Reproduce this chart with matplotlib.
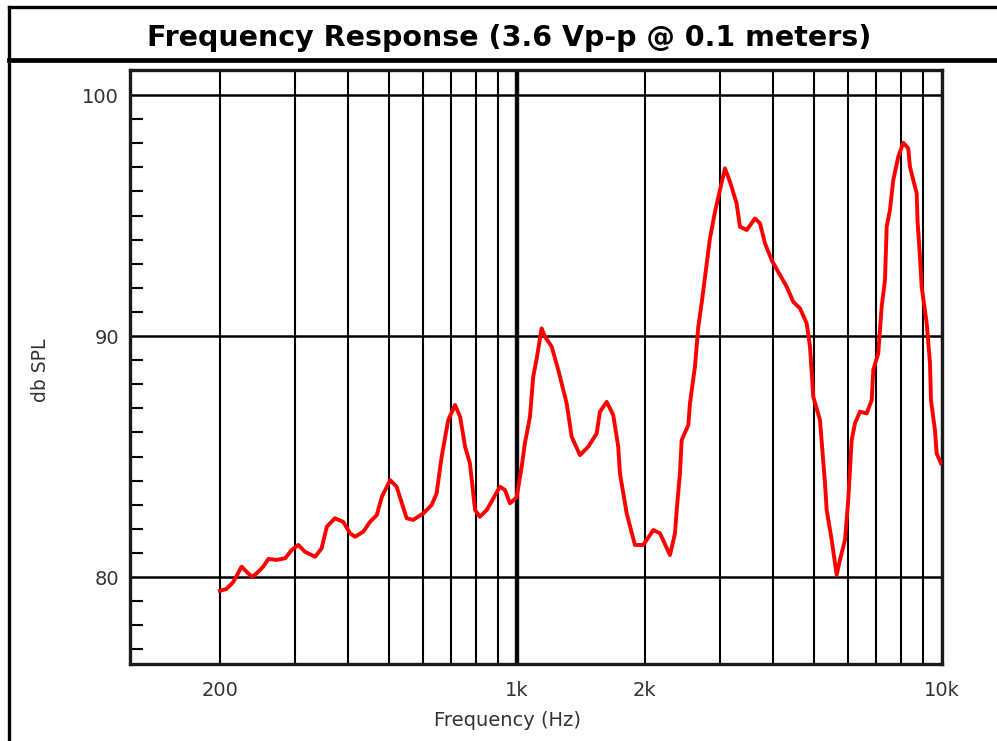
import numpy as np
import matplotlib
matplotlib.use('Agg')
import matplotlib.pyplot as plt
from matplotlib.lines import Line2D
from matplotlib.ticker import FixedLocator, NullFormatter

# frequency response
freq_hz = [200, 207, 215, 225, 231, 238, 244, 253, 260, 272, 285, 295, 306, 317, 335,
           347, 357, 373, 390, 405, 416, 435, 451, 468, 481, 503, 521, 536, 550, 570,
           602, 630, 647, 665, 689, 715, 735, 755, 775, 797, 818, 849, 880, 912, 937,
           963, 998, 1026, 1044, 1073, 1092, 1113, 1143, 1164, 1207, 1251, 1309, 1345,
           1407, 1472, 1540, 1568, 1626, 1685, 1731, 1747, 1812, 1895, 1982, 2094, 2171,
           2291, 2354, 2376, 2418, 2441, 2530, 2553, 2623, 2671, 2720, 2770, 2845, 2924,
           3003, 3086, 3171, 3287, 3347, 3471, 3631, 3731, 3833, 3975, 4158, 4312, 4468,
           4634, 4804, 4892, 4980, 5164, 5306, 5355, 5502, 5653, 5754, 5913, 6019, 6131,
           6242, 6414, 6650, 6833, 6893, 7081, 7147, 7213, 7344, 7412, 7544, 7681, 7892,
           8108, 8331, 8408, 8720, 8760, 8876, 8958, 9206, 9372, 9422, 9627, 9716, 9945]
spl_db = [79.43, 79.50, 79.79, 80.43, 80.22, 80.01, 80.15, 80.43, 80.75, 80.71, 80.78,
          81.12, 81.33, 81.05, 80.84, 81.19, 82.09, 82.44, 82.29, 81.81, 81.67, 81.88,
          82.29, 82.57, 83.33, 84.02, 83.75, 83.06, 82.44, 82.37, 82.64, 82.99, 83.47,
          84.99, 86.51, 87.14, 86.65, 85.41, 84.72, 82.78, 82.50, 82.78, 83.27, 83.75,
          83.61, 83.06, 83.30, 84.58, 85.55, 86.65, 88.31, 89.07, 90.32, 89.97, 89.56,
          88.59, 87.21, 85.82, 85.06, 85.41, 85.96, 86.86, 87.27, 86.72, 85.41, 84.30,
          82.64, 81.33, 81.33, 81.95, 81.81, 80.91, 81.81, 82.78, 84.30, 85.68, 86.31,
          87.21, 88.73, 90.39, 91.36, 92.46, 94.05, 95.16, 96.06, 96.96, 96.40, 95.51,
          94.54, 94.40, 94.88, 94.68, 93.85, 93.15, 92.53, 92.05, 91.42, 91.15, 90.53,
          89.56, 87.48, 86.51, 83.89, 82.78, 81.54, 80.08, 80.71, 81.54, 83.20, 85.68,
          86.38, 86.86, 86.79, 87.34, 88.59, 89.28, 90.25, 91.22, 92.32, 94.54, 95.23,
          96.47, 97.44, 98.02, 97.79, 97.02, 95.92, 94.80, 93.29, 92.05, 90.53, 88.87,
          87.34, 86.10, 85.13, 84.72]

x_major = [200, 1000, 2000, 10000]
x_major_labels = ['200', '1k', '2k', '10k']
x_minor = [300, 400, 500, 600, 700, 800, 900, 3000, 4000, 5000, 6000, 7000, 8000, 9000]
y_major = [80, 90, 100]
y_minor = [77, 78, 79, 81, 82, 83, 84, 85, 86, 87, 88, 89, 91, 92, 93, 94, 95, 96, 97, 98, 99]

fig = plt.figure(figsize=(9.97, 7.41), dpi=100)
ax = fig.add_axes([0.1304, 0.1039, 0.8144, 0.8016])

ax.set_xscale('log')
ax.set_xlim(122.9, 10000)
ax.set_ylim(76.39, 101.04)

ax.xaxis.set_major_locator(FixedLocator(x_major))
ax.set_xticklabels(x_major_labels)
ax.xaxis.set_minor_locator(FixedLocator(x_minor))
ax.xaxis.set_minor_formatter(NullFormatter())
ax.yaxis.set_major_locator(FixedLocator(y_major))
ax.yaxis.set_minor_locator(FixedLocator(y_minor))

# vertical grid at every decade step, horizontal only at 10 dB
ax.xaxis.grid(True, which='both', color='black', linewidth=1.5)
ax.yaxis.grid(True, which='major', color='black', linewidth=1.8)
ax.axvline(1000, color='#111111', linewidth=3.2, zorder=1.5)

ax.tick_params(axis='x', which='both', length=0, pad=12, labelsize=14, labelcolor='#333333')
ax.tick_params(axis='y', which='major', length=0, pad=8, labelsize=14, labelcolor='#333333')
ax.tick_params(axis='y', which='minor', direction='in', length=9.5, width=1.5, color='black')

for s in ax.spines.values():
    s.set_linewidth(2.4)
    s.set_color('#1a1a1a')

ax.plot(freq_hz, spl_db, color='#ff0000', linewidth=2.8, zorder=3)

ax.set_xlabel('Frequency (Hz)', fontsize=14, color='#333333')
ax.set_ylabel('db SPL', fontsize=13.5, color='#333333')
ax.xaxis.set_label_coords(0.4655, -0.079)
ax.yaxis.set_label_coords(-0.099, 0.495)

# title bar and outer frame
fig.text(0.5105, 0.9487, 'Frequency Response (3.6 Vp-p @ 0.1 meters)',
         ha='center', va='center', fontsize=20.5, fontweight='bold', color='black')
fig.add_artist(Line2D([0.009, 1.0], [0.9906, 0.9906], color='black', linewidth=2.4))
fig.add_artist(Line2D([0.009, 1.0], [0.9184, 0.9184], color='black', linewidth=3.4))
fig.add_artist(Line2D([0.009, 0.009], [0.0, 0.9906], color='black', linewidth=2.4))

plt.savefig('out.png', dpi=100)
